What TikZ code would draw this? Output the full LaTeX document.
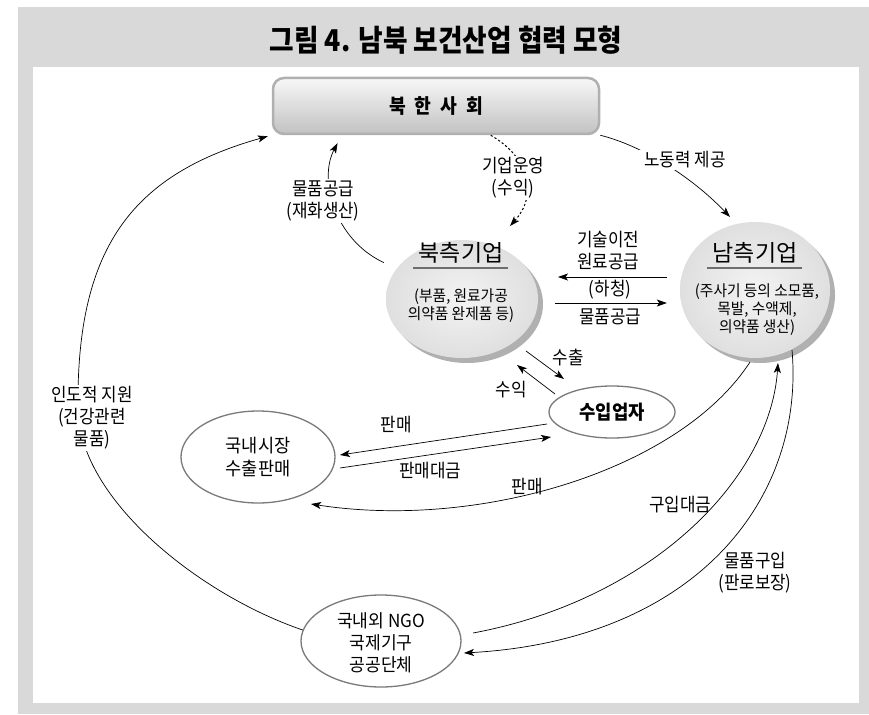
\documentclass[tikz,border=0pt]{standalone}
\usepackage{fontspec}
\newfontfamily\kr{Noto Sans CJK KR}[FakeStretch=0.91]
\newfontfamily\krb{Noto Sans CJK KR}[FakeStretch=0.95]
\newfontfamily\krn{Noto Sans CJK KR}
\newfontfamily\krt{Noto Sans CJK KR}[FakeStretch=0.89]
\usetikzlibrary{shapes.geometric,arrows.meta,calc,shadows}
\definecolor{bggray}{HTML}{D9D9D9}
\definecolor{ovalgray}{HTML}{7A7A7A}
\definecolor{shadowgray}{HTML}{B0B0B0}
\definecolor{ulgray}{HTML}{6E6E6E}
\definecolor{boxedge}{HTML}{B0B0B0}
\tikzset{
  lbl/.style={font=\kr\fontsize{18.5}{22}\selectfont, align=center, inner sep=2pt},
  lblw/.style={lbl, fill=white},
  arr/.style={-{Stealth[length=10pt,width=7pt,inset=2.5pt]}, line width=0.7pt},
  dotline/.style={line width=1pt, dash pattern=on 2.2pt off 2.2pt},
  oval/.style={ellipse, draw=ovalgray, line width=1.3pt, fill=white, inner sep=0pt, align=center},
  firm/.style={ellipse, inner sep=0pt, shading=radial, inner color=gray!9, outer color=gray!25,
    drop shadow={shadow xshift=5pt, shadow yshift=-5pt, fill=shadowgray, opacity=1}},
  ul/.style={draw=ulgray, line width=1.6pt},
  firmtitle/.style={font=\krn\fontsize{23}{26}\selectfont},
  firmbody/.style={font=\krb\fontsize{15.5}{18}\selectfont, align=center},
}
\begin{document}
\begin{tikzpicture}[x=1pt,y=1pt]
\useasboundingbox (0,0) rectangle (869,-714);
% frame
\fill[bggray] (18,-7) rectangle (869,-714);
\fill[white] (33,-67) rectangle (859,-703);
\node[font=\krt\bfseries\fontsize{30}{32}\selectfont] (title) at (446,-40) {그림 4. 남북 보건산업 협력 모형};

% top box
\node[draw=boxedge, line width=2.5pt, rounded corners=11pt, top color=gray!6, bottom color=gray!48,
      minimum width=326pt, minimum height=56pt, font=\kr\bfseries\fontsize{20}{22}\selectfont] (box) at (436,-106)
      {\raisebox{-3pt}{\spaceskip=9pt plus 0pt 북 한 사 회}};

% firms
\node[firm, minimum width=152pt, minimum height=118pt] (north) at (462,-299) {};
\node[firm, minimum width=150pt, minimum height=136pt] (south) at (755,-290) {};
\node[firmtitle] (ntitle) at (461,-253) {북측기업};
\draw[ul] (413,-268) -- (508,-268);
\node[firmbody] (nbody) at (461,-306) {(부품, 원료가공\\의약품 완제품 등)};
\node[firmtitle] (stitle) at (755,-253) {남측기업};
\draw[ul] (707,-268) -- (802,-268);
\node[firmbody] (sbody) at (757,-310) {(주사기 등의 소모품,\\목발, 수액제,\\의약품 생산)};

% other ovals
\node[oval, minimum width=126pt, minimum height=52pt, font=\kr\bfseries\fontsize{19.5}{22}\selectfont] (imp) at (612,-412) {수입업자};
\node[oval, minimum width=154pt, minimum height=92pt, font=\krb\fontsize{18.5}{23}\selectfont] (dom) at (258,-457) {국내시장\\수출판매};
\node[oval, minimum width=160pt, minimum height=92pt] (ngo) at (381,-641) {};
\node[font=\krb\fontsize{18}{22}\selectfont, align=center] (ngot) at (381,-643) {국내외 NGO\\국제기구\\공공단체};

% 1 humanitarian support
\draw[arr] (ngo.172) .. controls (200,-595) and (80,-500) .. (78,-410)
  .. controls (76,-250) and (130,-175) .. ([shift={(-4pt,-1pt)}]box.south west);
\node[lblw] (hum) at (92,-418) {인도적 지원\\(건강관련\\물품)};

% 2 goods supply (north firm -> society)
\draw[arr, shorten <=14pt, shorten >=9pt] (north.155) .. controls (335,-240) and (318,-180) .. ([xshift=70pt]box.south west);
\node[lblw] (sup) at (323,-201) {물품공급\\(재화생산)};

% 3 operation (dotted)
\draw[arr, dotline] ([xshift=219pt]box.south west) .. controls (530,-158) and (538,-195) .. ([shift={(48pt,73pt)}]north.center);
\node[lblw] (ops) at (513,-178) {기업운영\\(수익)};

% 4 labour
\draw[arr] (box.south east) .. controls (640,-145) and (690,-175) .. ([shift={(-25pt,73pt)}]south.center);
\node[lblw, inner xsep=8pt] (labor) at (685,-160) {노동력 제공};

% 5 between firms
\draw[arr] ([shift={(-13pt,13pt)}]south.west) -- ([shift={(96pt,22pt)}]north.center);
\draw[arr] ([shift={(93pt,-4pt)}]north.center) -- ([shift={(-13pt,-13pt)}]south.west);
\node[lbl] (tech) at (608,-251) {기술이전\\원료공급};
\node[lbl] (subc) at (610,-290) {(하청)};
\node[lbl] (supp) at (610,-317) {물품공급};

% 6 export / revenue
\draw[arr] ([shift={(64pt,-52pt)}]north.center) -- ([shift={(-48pt,33pt)}]imp.center);
\draw[arr] ([shift={(-57pt,18pt)}]imp.center) -- ([shift={(55pt,-66pt)}]north.center);
\node[lbl] (exp) at (568,-358) {수출};
\node[lbl] (rev) at (511,-390) {수익};

% 7 importer <-> domestic
\draw[arr] ([shift={(-65pt,-12pt)}]imp.center) -- ([shift={(82pt,2pt)}]dom.center);
\draw[arr] ([shift={(82pt,-11pt)}]dom.center) -- ([shift={(-61pt,-25pt)}]imp.center);
\node[lbl] (sell1) at (396,-425) {판매};
\node[lbl] (sellpay) at (430,-471) {판매대금};

% 8 south -> domestic
\draw[arr] ([shift={(-5pt,-72pt)}]south.center) .. controls (680,-470) and (480,-530) .. ([shift={(53pt,-47pt)}]dom.center);
\node[lbl] (sell2) at (527,-487) {판매};

% 9 NGO -> south (payment)
\draw[arr] ([shift={(92pt,8pt)}]ngo.center) .. controls (650,-600) and (770,-480) .. ([shift={(23pt,-73pt)}]south.center);
\node[lbl] (pay) at (680,-505) {구입대금};

% 10 south -> NGO (purchase)
\draw[arr] ([shift={(37pt,-60pt)}]south.center) .. controls (805,-500) and (695,-640) .. ([shift={(83pt,-12pt)}]ngo.center);
\node[lbl] (buy) at (755,-573) {물품구입\\(판로보장)};
\end{tikzpicture}
\end{document}
